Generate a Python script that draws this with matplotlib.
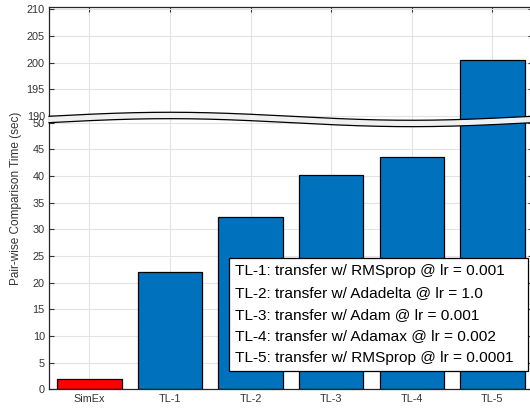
import numpy as np
import matplotlib.pyplot as plt
from matplotlib.lines import Line2D
from matplotlib.patches import Polygon

plt.rcParams['font.family'] = ['Liberation Sans', 'DejaVu Sans']

# Data
methods = ["SimEx", "TL-1", "TL-2", "TL-3", "TL-4", "TL-5"]
times = [2.0, 22.1, 32.25, 40.25, 43.5, 200.5]
notes = [
    "TL-1: transfer w/ RMSprop @ lr = 0.001",
    "TL-2: transfer w/ Adadelta @ lr = 1.0",
    "TL-3: transfer w/ Adam @ lr = 0.001",
    "TL-4: transfer w/ Adamax @ lr = 0.002",
    "TL-5: transfer w/ RMSprop @ lr = 0.0001",
]
low_ticks = list(range(0, 51, 5))
high_ticks = [190, 195, 200, 205, 210]

# broken y axis: 50..190 squeezed into a small gap
BREAK_LO, BREAK_HI, GAP = 50.0, 190.0, 1.25
SPAN = BREAK_HI - BREAK_LO


def fwd(y):
    y = np.asarray(y, dtype=float)
    mid = BREAK_LO + GAP * (y - BREAK_LO) / SPAN
    return np.where(y <= BREAK_LO, y, np.where(y >= BREAK_HI, y - SPAN + GAP, mid))


def inv(z):
    z = np.asarray(z, dtype=float)
    mid = BREAK_LO + (z - BREAK_LO) * SPAN / GAP
    return np.where(z <= BREAK_LO, z, np.where(z >= BREAK_LO + GAP, z + SPAN - GAP, mid))


fig = plt.figure(figsize=(5.3, 4.09), dpi=100)
ax = fig.add_axes([0.0925, 0.0477, 0.9125, 0.9357])

x = np.arange(1, len(methods) + 1)
colors = ["#ff0000"] + ["#0072bd"] * (len(methods) - 1)
ax.bar(x, times, width=0.8, color=colors, edgecolor="black", linewidth=0.9, zorder=2)

ax.set_yscale("function", functions=(fwd, inv))
ax.set_xlim(0.5, 6.5)
ax.set_ylim(0, 210.5)
ax.set_yticks(low_ticks + high_ticks)
ax.set_xticks(x, methods)

ax.set_axisbelow(True)
ax.grid(True, color="#e3e3e3", linewidth=0.8)
ax.tick_params(direction="in", length=3.5, width=0.8, colors="#333333",
               labelsize=7.8, top=True, right=True, pad=3)
for s in ax.spines.values():
    s.set_color("#262626")
    s.set_linewidth(0.9)
ax.set_ylabel("Pair-wise Comparison Time (sec)", fontsize=8.5, color="#333333", labelpad=3)

# wavy break band
H = ax.get_position().height * fig.get_figheight() * fig.dpi
ytop = float(fwd(210.5))
yc = (float(fwd(BREAK_LO)) + float(fwd(BREAK_HI))) / 2 / ytop
amp = 4.0 / H
half = 3.2 / H
xs = np.linspace(0, 1.01, 300)
wave = yc + amp * np.sin(2 * np.pi * xs)
band = np.column_stack([np.r_[xs, xs[::-1]], np.r_[wave + half, (wave - half)[::-1]]])
ax.add_patch(Polygon(band, closed=True, transform=ax.transAxes, facecolor="#f0f0f0",
                     edgecolor="none", zorder=5, clip_on=False))
for off in (half, -half):
    ax.plot(xs, wave + off, transform=ax.transAxes, color="black", lw=0.9,
            zorder=6, clip_on=False)

# text-only legend, box stretched to the reference width
handles = [Line2D([], [], linestyle="none") for _ in notes]
leg = ax.legend(handles, notes, loc="upper left", bbox_to_anchor=(0.3728, 0.0, 0.6183, 0.3428),
                mode="expand", handlelength=0, handletextpad=0, fontsize=11.1,
                borderaxespad=0, borderpad=0.38, labelspacing=0.5, fancybox=False,
                framealpha=1, edgecolor="black")
leg.get_frame().set_linewidth(0.9)
leg.set_zorder(10)

fig.savefig("out.png", dpi=100)
